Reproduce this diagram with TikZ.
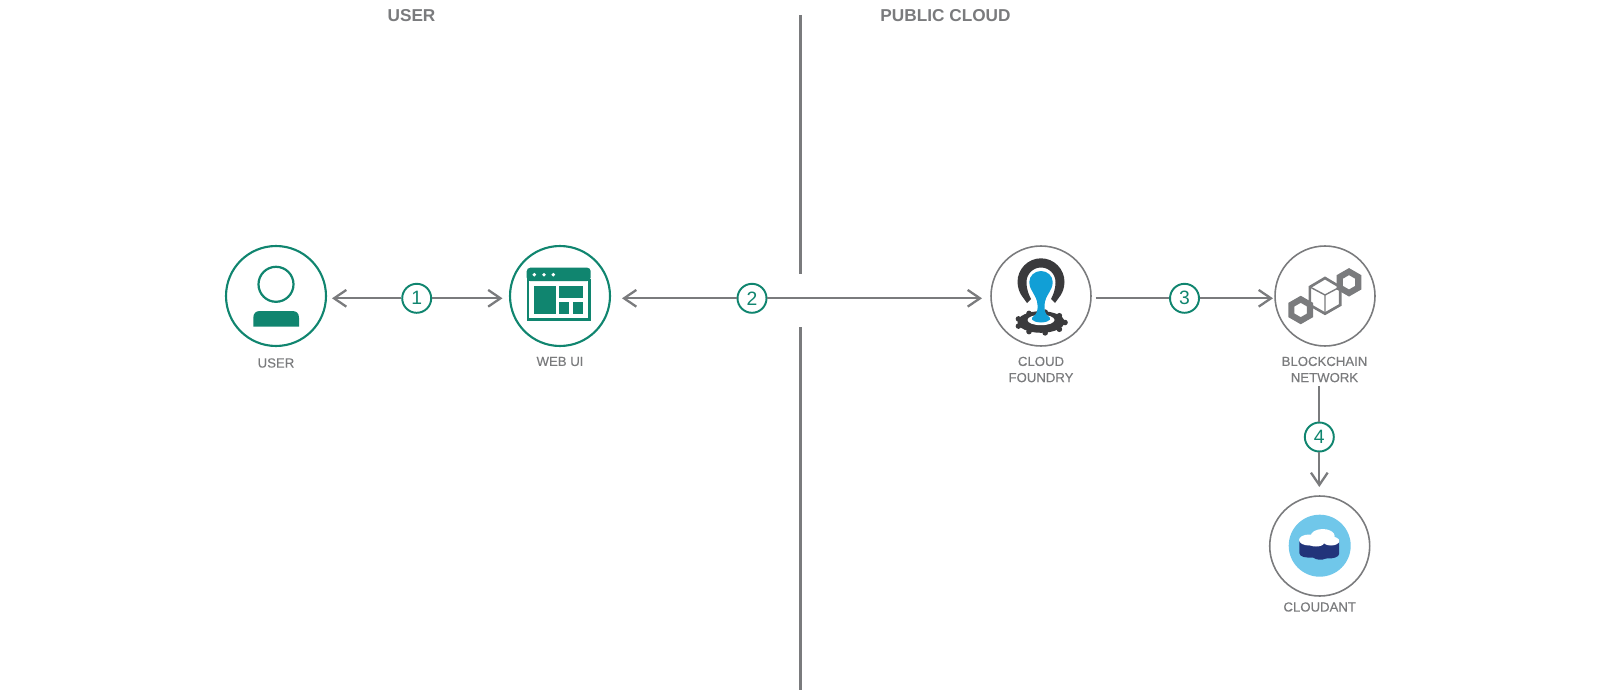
\documentclass[tikz,border=0pt]{standalone}
\usepackage{fontspec}
\setmainfont{Liberation Sans}
\newfontfamily\medfont[FakeBold=0.25]{Liberation Sans}
\usetikzlibrary{calc,arrows.meta}
\definecolor{teal1}{HTML}{10856F}
\definecolor{grey1}{HTML}{7A7B7D}
\definecolor{dark1}{HTML}{3A3A3C}
\definecolor{blue1}{HTML}{119FD6}
\definecolor{sky1}{HTML}{70C7EA}
\definecolor{navy1}{HTML}{22347A}
\begin{document}
\begin{tikzpicture}[x=0.02cm,y=-0.02cm]
    \tikzstyle{head}=[font=\bfseries\fontsize{9.8pt}{11pt}\selectfont,text=grey1,inner sep=0pt]
    \tikzstyle{label}=[font=\medfont\fontsize{7.5pt}{9.2pt}\selectfont,text=grey1,inner sep=0pt,align=center]
    \tikzstyle{ring}=[circle,fill=white,minimum size=2.0cm,inner sep=0pt]
    \tikzstyle{num}=[circle,draw=teal1,line width=1.1pt,fill=white,text=teal1,minimum size=0.58cm,inner sep=0pt,font=\fontsize{11pt}{11pt}\selectfont]
    \tikzstyle{link}=[draw=grey1,line width=1.3pt,-{Straight Barb[length=7pt,width=9.5pt,line width=1.3pt]}]
    \tikzstyle{wall}=[draw=grey1,line width=2pt]
    \useasboundingbox (0,0) rectangle (1601,696);

    \node [head] (titleuser) at (411.5,16) {USER};
    \node [head] (titlecloud) at (945.5,16) {PUBLIC CLOUD};
    \coordinate (walla) at (800.5,15);
    \coordinate (wallb) at (800.5,274);
    \coordinate (wallc) at (800.5,327);
    \coordinate (walld) at (800.5,690);
    \draw [wall] (walla) -- (wallb);
    \draw [wall] (wallc) -- (walld);

    \node [ring,draw=teal1,line width=1.2pt] (user) at (276,296) {};
    \node [ring,draw=teal1,line width=1.2pt] (webui) at (560,296) {};
    \node [ring,draw=grey1,line width=0.9pt] (foundry) at (1041,296) {};
    \node [ring,draw=grey1,line width=0.9pt] (chain) at (1325,296) {};
    \node [ring,draw=grey1,line width=0.9pt] (cloudant) at (1319.7,546) {};

    \node [label] (userlabel) at (276,363) {USER};
    \node [label] (webuilabel) at (560,361.5) {WEB UI};
    \node [label] (foundrylabel) at (1041,369.5) {CLOUD\\FOUNDRY};
    \node [label] (chainlabel) at (1324.5,369.5) {BLOCKCHAIN\\NETWORK};
    \node [label] (cloudantlabel) at (1319.7,607) {CLOUDANT};

    \node [num] (one) at (416.7,298.3) {1};
    \node [num] (two) at (752,298.3) {2};
    \node [num] (three) at (1184.5,298.3) {3};
    \node [num] (four) at (1319.3,437) {4};

    \coordinate (onea) at (332,298.3);
    \coordinate (oneb) at (502.5,298.3);
    \coordinate (twoa) at (622,298.3);
    \coordinate (twob) at (982,298.3);
    \coordinate (threea) at (1095.6,298.3);
    \coordinate (threeb) at (1273,298.3);
    \coordinate (foura) at (1319.3,386);
    \coordinate (fourb) at (1319.3,487);
    \draw [link] (one) -- (onea);
    \draw [link] (one) -- (oneb);
    \draw [link] (two) -- (twoa);
    \draw [link] (two) -- (twob);
    \draw [link,-] (threea) -- (three);
    \draw [link] (three) -- (threeb);
    \draw [link,-] (foura) -- (four);
    \draw [link] (four) -- (fourb);

    \draw [teal1,line width=1.25pt] (276,284.3) circle (17.5);
    \fill [teal1] (253.3,326.7) -- (253.3,318) .. controls (253.3,313) and (256,311) .. (260,311) -- (292,311) .. controls (296.5,311) and (299,313) .. (299,318) -- (299,326.7) -- cycle;

    \draw [teal1,line width=1.4pt] (528,280) rectangle (589.5,319.5);
    \fill [teal1,rounded corners=2pt] (526.7,267.7) rectangle (590.7,281);
    \foreach \x in {534.3,544,553.3}
        \fill [white] (\x,274.7) circle (1.9);
    \fill [teal1] (534,286) rectangle (555.7,314);
    \fill [teal1] (558.7,286) rectangle (583.3,298.3);
    \fill [teal1] (558.7,302) rectangle (569.3,314);
    \fill [teal1] (572.7,302) rectangle (583.3,314);

    \foreach \a in {0,40,...,320}
        \fill [dark1] ({1041+24*cos(\a)},{322.5+10.5*sin(\a)}) circle (2.8);
    \fill [dark1] (1041,322) ellipse (23.5 and 10.8);
    \fill [white] (1041,320) ellipse (13.5 and 5.2);
    \fill [dark1] (1027,303) .. controls (1024,298) and (1018,294) .. (1017.5,282) .. controls (1017.5,269) and (1028,258.3) .. (1041,258.3) .. controls (1054,258.3) and (1064.5,269) .. (1064.5,282) .. controls (1064,294) and (1058,298) .. (1055,303) -- (1051,299) .. controls (1053,295) and (1055.5,290) .. (1055.5,282) .. controls (1055.5,274) and (1049,267.5) .. (1041,267.5) .. controls (1033,267.5) and (1026.5,274) .. (1026.5,282) .. controls (1026.5,290) and (1029,295) .. (1031,299) -- cycle;
    \fill [blue1] (1041,271) .. controls (1047.5,271) and (1052.7,276) .. (1052.7,282) .. controls (1052.7,291) and (1045,295) .. (1044.5,305) .. controls (1044.2,310) and (1045,313.5) .. (1048,316) .. controls (1052,318) and (1051,322) .. (1041,322.5) .. controls (1031,322) and (1030,318) .. (1034,316) .. controls (1037,313.5) and (1037.8,310) .. (1037.5,305) .. controls (1037,295) and (1029.3,291) .. (1029.3,282) .. controls (1029.3,276) and (1034.5,271) .. (1041,271) -- cycle;

    \draw [grey1,line width=1.5pt,fill=white,line join=miter] (1325,278) -- (1340.2,287) -- (1340.2,305) -- (1325,313.7) -- (1309.8,305) -- (1309.8,287) -- cycle;
    \draw [grey1,line width=0.8pt] (1310,287) -- (1325,295) -- (1340,287) (1325,295) -- (1325,313);
    \draw [grey1,line width=3.5pt,fill=white,line join=miter] (1300.7,299.3) -- (1310,304.65) -- (1310,315.35) -- (1300.7,320.7) -- (1291.4,315.35) -- (1291.4,304.65) -- cycle;
    \draw [grey1,line width=3.5pt,fill=white,line join=miter] (1349,271.6) -- (1358.3,276.95) -- (1358.3,287.65) -- (1349,293) -- (1339.7,287.65) -- (1339.7,276.95) -- cycle;

    \fill [sky1] (1319.7,545.7) circle (31);
    \fill [navy1] (1299.3,540) -- (1339,540) -- (1339,554) .. controls (1339,557) and (1333,559) .. (1326,558.5) .. controls (1322,560.5) and (1316,560) .. (1313,557.5) .. controls (1306,558) and (1299.3,557) .. (1299.3,553) -- cycle;
    \fill [white] (1309,540) ellipse (10 and 5.5);
    \fill [white] (1322.7,536) ellipse (12 and 7);
    \fill [white] (1331,541) ellipse (8.3 and 4.5);
    \fill [white] (1316,543) ellipse (8 and 3.5);
\end{tikzpicture}
\end{document}
